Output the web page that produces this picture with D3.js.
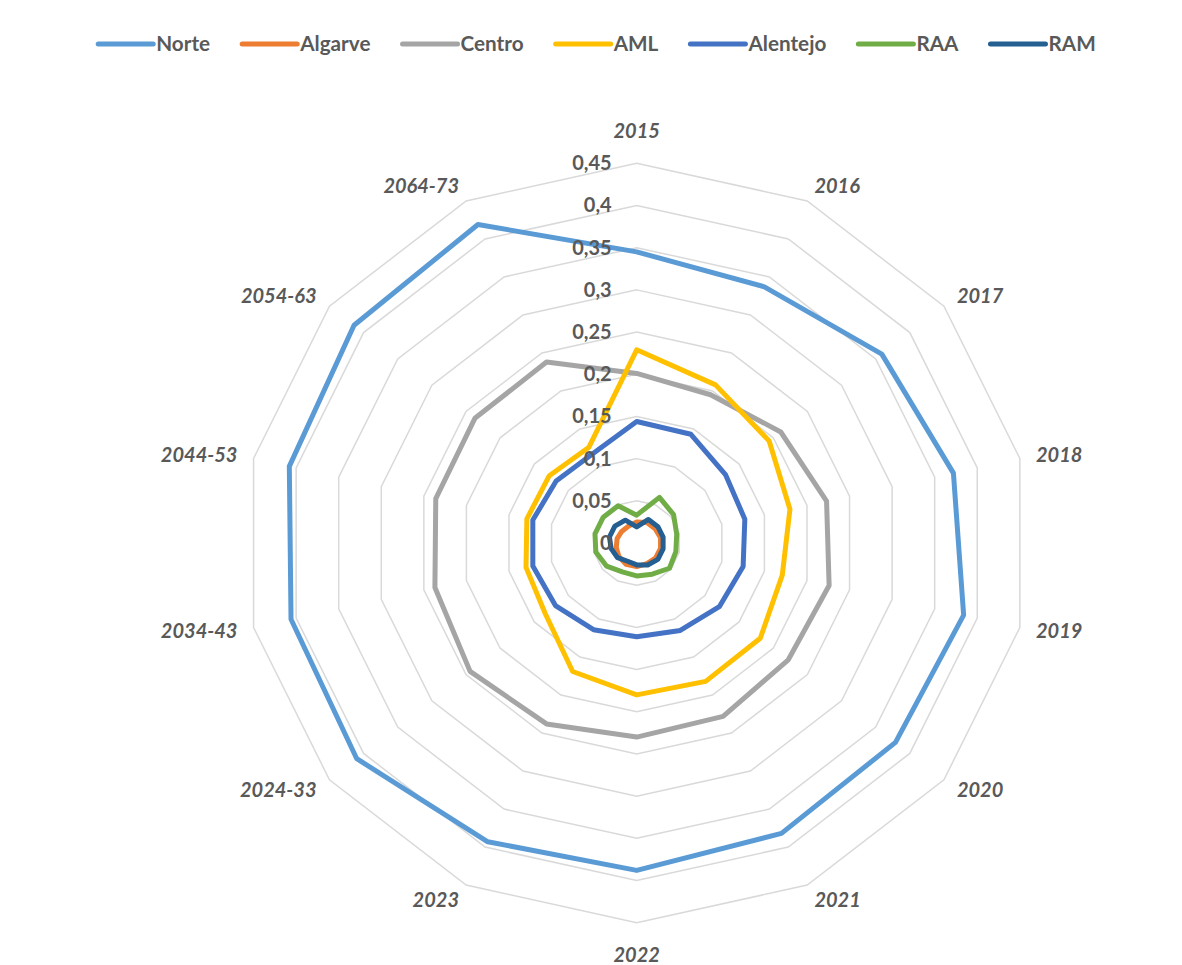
<!DOCTYPE html>
<html>
<head>
<meta charset="utf-8">
<script src="https://cdn.jsdelivr.net/npm/d3@7"></script>
<style>
  body { margin: 0; background: #fff; }
  svg { display: block; font-family: Lato, "Open Sans", sans-serif; }
</style>
</head>
<body>
<svg id="chart" width="1182" height="965"></svg>
<script>
// categories (spokes, clockwise from top)
const categories = ['2015', '2016', '2017', '2018', '2019', '2020', '2021', '2022', '2023',
  '2024-33', '2034-43', '2044-53', '2054-63', '2064-73'];
const tickValues = [0, 0.05, 0.1, 0.15, 0.2, 0.25, 0.3, 0.35, 0.4, 0.45];
const tickLabels = ['0', '0,05', '0,1', '0,15', '0,2', '0,25', '0,3', '0,35', '0,4', '0,45'];

const seriesNames = ['Norte', 'Algarve', 'Centro', 'AML', 'Alentejo', 'RAA', 'RAM'];
const seriesColors = ['#5B9BD5', '#ED7D31', '#A5A5A5', '#FFC000', '#4472C4', '#70AD47', '#255E91'];

const norte    = [0.345, 0.337, 0.359, 0.372, 0.384, 0.379, 0.382, 0.388, 0.393, 0.410, 0.406, 0.408, 0.414, 0.419];
const algarve  = [0.025, 0.027, 0.027, 0.028, 0.028, 0.028, 0.027, 0.028, 0.028, 0.026, 0.024, 0.023, 0.022, 0.022];
const centro   = [0.201, 0.195, 0.211, 0.223, 0.226, 0.222, 0.228, 0.230, 0.238, 0.244, 0.237, 0.236, 0.237, 0.238];
const aml      = [0.229, 0.208, 0.194, 0.180, 0.171, 0.181, 0.182, 0.180, 0.169, 0.134, 0.130, 0.129, 0.128, 0.126];
const alentejo = [0.144, 0.143, 0.130, 0.127, 0.125, 0.121, 0.115, 0.111, 0.114, 0.119, 0.122, 0.122, 0.118, 0.117];
const raa      = [0.033, 0.060, 0.054, 0.047, 0.046, 0.048, 0.041, 0.039, 0.038, 0.044, 0.048, 0.049, 0.049, 0.049];
const ram      = [0.019, 0.031, 0.031, 0.031, 0.031, 0.031, 0.029, 0.026, 0.024, 0.028, 0.030, 0.032, 0.032, 0.030];
const seriesValues = [norte, algarve, centro, aml, alentejo, raa, ram];

const svg = d3.select('#chart');
const cx = 636.7, cy = 543;
const R = 379.7;
const kx = 1.035; // plot is slightly wider than tall
const textColor = '#595959';

const r = d3.scaleLinear().domain([0, 0.45]).range([0, R]);
const angle = d3.scaleLinear().domain([0, categories.length]).range([0, 2 * Math.PI]);

const px = (v, i) => cx + Math.sin(angle(i)) * r(v) * kx;
const py = (v, i) => cy - Math.cos(angle(i)) * r(v);

const ring = d3.line()
  .x(d => px(d.v, d.i))
  .y(d => py(d.v, d.i))
  .curve(d3.curveLinearClosed);

// grid polygons
svg.append('g')
  .selectAll('path')
  .data(tickValues.filter(t => t > 0))
  .join('path')
  .attr('d', t => ring(categories.map((c, i) => ({ v: t, i }))))
  .attr('fill', 'none')
  .attr('stroke', '#D9D9D9')
  .attr('stroke-width', 1.5);

// series
svg.append('g')
  .selectAll('path')
  .data(seriesValues)
  .join('path')
  .attr('d', vals => ring(vals.map((v, i) => ({ v, i }))))
  .attr('fill', 'none')
  .attr('stroke', (d, k) => seriesColors[k])
  .attr('stroke-width', 5)
  .attr('stroke-linejoin', 'round');

// radial tick labels
svg.append('g')
  .selectAll('text')
  .data(tickValues)
  .join('text')
  .attr('x', cx - 25)
  .attr('y', t => cy - r(t))
  .attr('dy', '0.35em')
  .attr('text-anchor', 'end')
  .attr('font-size', 20)
  .attr('font-weight', 'bold')
  .attr('fill', textColor)
  .text((t, k) => tickLabels[k]);

// category labels
const catG = svg.append('g');
categories.forEach((c, i) => {
  const t = catG.append('text')
    .attr('font-size', 20)
    .attr('font-weight', 'bold')
    .attr('font-style', 'italic')
    .attr('fill', textColor)
    .attr('text-anchor', 'middle')
    .attr('dy', '0.35em')
    .text(c);
  const w = t.node().getComputedTextLength();
  const a = angle(i);
  const s = Math.sin(a), co = Math.cos(a);
  const base = R + 16;
  if (Math.abs(s) < 1e-6) {
    t.attr('x', cx).attr('y', cy - co * (base + 16));
  } else {
    t.attr('x', cx + s * base * kx + Math.sign(s) * w / 2)
     .attr('y', cy - co * base);
  }
});

// legend
const legend = svg.append('g');
let lx = 0;
seriesNames.forEach((n, k) => {
  const g = legend.append('g');
  g.append('line')
    .attr('x1', 2).attr('x2', 55)
    .attr('y1', 0).attr('y2', 0)
    .attr('stroke', seriesColors[k])
    .attr('stroke-width', 5)
    .attr('stroke-linecap', 'round');
  const tx = g.append('text')
    .attr('x', 58)
    .attr('dy', '0.35em')
    .attr('font-size', 20)
    .attr('font-weight', 'bold')
    .attr('fill', textColor)
    .text(n);
  const w = 58 + tx.node().getComputedTextLength();
  g.attr('transform', `translate(${lx},0)`);
  lx += w + 29;
});
const totalW = (lx - 29) * kx;
legend.attr('transform', `translate(${596 - totalW / 2},44) scale(${kx},1)`);
</script>
</body>
</html>
